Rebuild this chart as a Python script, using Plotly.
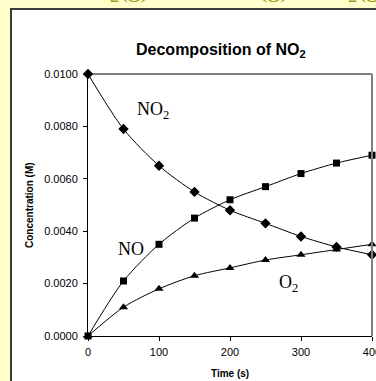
import plotly.graph_objects as go

time_s = [0, 50, 100, 150, 200, 250, 300, 350, 400]
no2 = [0.0100, 0.0079, 0.0065, 0.0055, 0.0048, 0.0043, 0.0038, 0.0034, 0.0031]
no = [0.0000, 0.0021, 0.0035, 0.0045, 0.0052, 0.0057, 0.0062, 0.0066, 0.0069]
o2 = [0.0000, 0.0011, 0.0018, 0.0023, 0.0026, 0.0029, 0.0031, 0.0033, 0.0035]
x_ticks = [0, 100, 200, 300, 400]
y_ticks = [0.0, 0.002, 0.004, 0.006, 0.008, 0.010]

W, H = 376, 381
L, R, T, B = 88, 4, 74, 45
pw, ph = W - L - R, H - T - B

def px(xp):
    return (xp - L) / pw

def py(yp):
    return (H - B - yp) / ph

fig = go.Figure()
series = [(no2, "diamond", 8, "NO2"), (no, "square", 7, "NO"), (o2, "triangle-up", 8, "O2")]
for vals, sym, size, name in series:
    fig.add_trace(go.Scatter(
        x=time_s, y=vals, mode="lines+markers", name=name,
        line=dict(color="black", width=1, shape="spline", smoothing=0.8),
        marker=dict(symbol=sym, size=size, color="black"),
        cliponaxis=False, showlegend=False,
    ))

serif = "Liberation Serif, Times New Roman, serif"
sans = "Liberation Sans, Arial, sans-serif"

annotations = [
    dict(text="<b>Decomposition of NO<sub>2</sub></b>", x=px(221), y=py(50), xref="paper", yref="paper",
         showarrow=False, font=dict(family=sans, size=16, color="black"), xanchor="center", yanchor="middle"),
    dict(text="<b>Concentration (M)</b>", x=px(29), y=0.5, xref="paper", yref="paper", textangle=-90,
         showarrow=False, font=dict(family=sans, size=10, color="black"), xanchor="center", yanchor="middle"),
    dict(text="<b>Time (s)</b>", x=0.5, y=py(373), xref="paper", yref="paper",
         showarrow=False, font=dict(family=sans, size=10, color="black"), xanchor="center", yanchor="middle"),
    dict(text="NO<sub>2</sub>", x=91.5, y=0.00862, xref="x", yref="y", showarrow=False,
         font=dict(family=serif, size=18, color="black"), xanchor="center", yanchor="middle"),
    dict(text="NO", x=60.6, y=0.00332, xref="x", yref="y", showarrow=False,
         font=dict(family=serif, size=18, color="black"), xanchor="center", yanchor="middle"),
    dict(text="O<sub>2</sub>", x=283, y=0.00199, xref="x", yref="y", showarrow=False,
         font=dict(family=serif, size=18, color="black"), xanchor="center", yanchor="middle"),
    dict(text="2 NO<sub>2</sub>(g)  →  2 NO(g)  +  O<sub>2</sub>(g)", x=px(220), y=py(8), xref="paper", yref="paper",
         showarrow=False, font=dict(family=serif, size=26, color="#9a9a22"), xanchor="center", yanchor="bottom"),
]

shapes = [
    dict(type="rect", xref="paper", yref="paper", x0=px(11), x1=px(420), y0=py(430), y1=py(9),
         fillcolor="white", line=dict(color="#3a3a3a", width=2), layer="below"),
    dict(type="line", xref="paper", yref="paper", x0=0, x1=1, y0=1, y1=1, line=dict(color="black", width=1)),
    dict(type="line", xref="paper", yref="paper", x0=1, x1=1, y0=0, y1=1, line=dict(color="#808080", width=2)),
]

fig.update_layout(
    width=W, height=H, margin=dict(l=L, r=R, t=T, b=B, autoexpand=False),
    paper_bgcolor="#FFFFCC", plot_bgcolor="white",
    annotations=annotations, shapes=shapes,
    font=dict(family=sans, color="black"),
)
fig.update_xaxes(range=[0, 400], tickvals=x_ticks, ticks="outside", ticklen=4, tickcolor="black",
                 showline=True, linecolor="black", linewidth=1, showgrid=False, zeroline=False,
                 ticklabeloverflow="allow", ticklabelstandoff=2,
                 tickfont=dict(family=sans, size=11, color="black"))
fig.update_yaxes(range=[0, 0.0100], tickvals=y_ticks, tickformat=".4f", ticks="outside", ticklen=4,
                 tickcolor="black", showline=True, linecolor="black", linewidth=1, showgrid=False,
                 zeroline=False, ticklabelstandoff=3,
                 tickfont=dict(family=sans, size=11, color="black"))

fig.write_html("out.html")
